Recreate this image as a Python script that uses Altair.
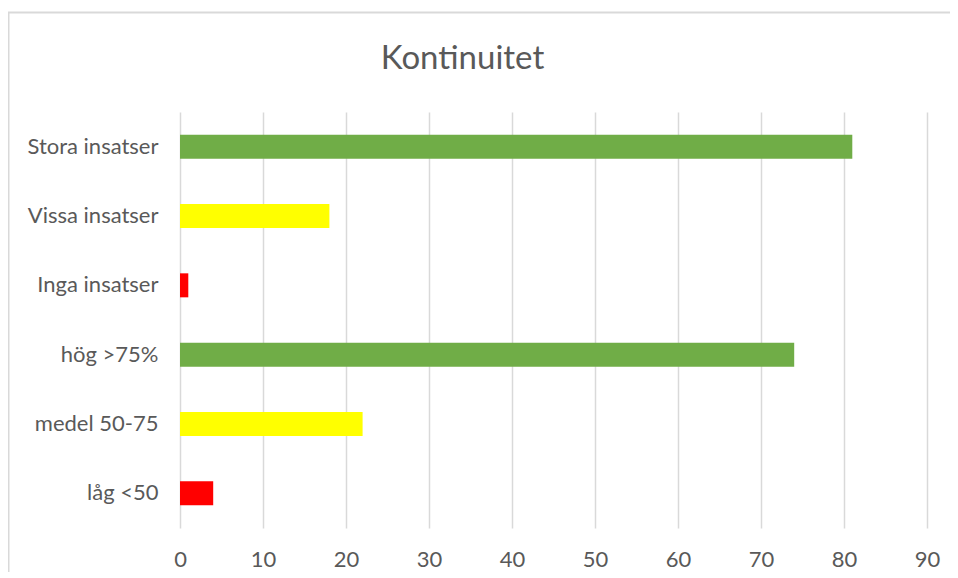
import altair as alt
import pandas as pd

categories = ["Stora insatser", "Vissa insatser", "Inga insatser", "hög >75%", "medel 50-75", "låg <50"]
values = [81, 18, 1, 74, 22, 4]
levels = ["Hög", "Medel", "Låg", "Hög", "Medel", "Låg"]
level_domain = ["Hög", "Medel", "Låg"]
level_colors = ["#70AD47", "#FFFF00", "#FF0000"]
x_ticks = [0, 10, 20, 30, 40, 50, 60, 70, 80, 90]

df = pd.DataFrame({"kategori": categories, "varde": values, "niva": levels})

FONT = "Lato"
GREY = "#595959"

bars = alt.Chart(df).mark_bar(size=24).encode(
    y=alt.Y("kategori:N", sort=None, title=None,
            scale=alt.Scale(paddingInner=0, paddingOuter=0),
            axis=alt.Axis(domain=False, ticks=False, grid=False, labelPadding=22,
                          labelFont=FONT, labelFontSize=22, labelColor=GREY)),
    x=alt.X("varde:Q", title=None,
            scale=alt.Scale(domain=[0, 90], nice=False),
            axis=alt.Axis(values=x_ticks, domain=False, ticks=False, grid=True,
                          gridColor="#d9d9d9", gridWidth=1.5, labelFlush=False,
                          labelPadding=21, labelFont=FONT, labelFontSize=22,
                          labelColor=GREY)),
    color=alt.Color("niva:N", scale=alt.Scale(domain=level_domain, range=level_colors), legend=None),
)

frame = alt.Chart(pd.DataFrame({"f": [0]})).mark_rect(
    fill=None, stroke="#d9d9d9", strokeWidth=2
).encode(
    x=alt.value(-171.5), x2=alt.value(820),
    y=alt.value(-99.5), y2=alt.value(520),
)

chart = alt.layer(frame, bars).properties(
    width=747,
    height=416,
    title=alt.TitleParams("Kontinuitet", anchor="middle", frame="group", dx=-91,
                          offset=-90, baseline="alphabetic", font=FONT, fontSize=33,
                          fontWeight="normal", color=GREY),
    autosize=alt.AutoSizeParams(type="none"),
    padding={"left": 172, "top": 104, "right": 23, "bottom": 44},
).configure_view(stroke=None)

chart.save("out.html", embed_options={"renderer": "svg", "actions": False})
